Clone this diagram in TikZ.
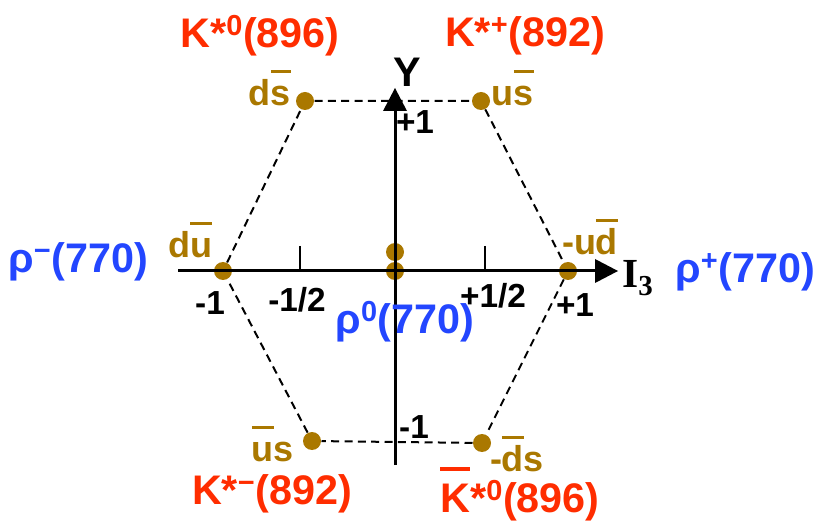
\documentclass[tikz,border=0pt]{standalone}
\usepackage{fontspec}
\setmainfont{Liberation Sans}
\newfontfamily\timesfont{Liberation Serif}
\definecolor{kred}{RGB}{255,45,0}
\definecolor{rhoblue}{RGB}{35,70,255}
\definecolor{qgold}{RGB}{170,120,0}
\newcommand\qbar[2][0.9em]{\setbox0\hbox{#2}\rlap{\raisebox{#1}{\rule{\wd0}{0.085em}}}\box0}

\tikzset{every picture/.style={line width=0.75pt}}

\begin{document}
\begin{tikzpicture}[x=0.75pt,y=0.75pt,yscale=-1,xscale=1,
  kstar/.style={text=kred, font=\bfseries\fontsize{31}{31}\selectfont, inner sep=0pt},
  rho/.style={text=rhoblue, font=\bfseries\fontsize{31}{31}\selectfont, inner sep=0pt},
  quark/.style={text=qgold, font=\bfseries\fontsize{27}{27}\selectfont, inner sep=0pt},
  axnum/.style={font=\bfseries\fontsize{25}{25}\selectfont, inner sep=0pt},
  qdot/.style={circle, fill=qgold, minimum size=13.5pt, inner sep=0pt}]
\useasboundingbox (0,0) rectangle (818,527);

%Shape: Circle [id:dots] 
\node [qdot] (ds) at (305,101) {};
\node [qdot] (us) at (481,101) {};
\node [qdot] (du) at (223,271) {};
\node [qdot] (ud) at (568,271) {};
\node [qdot] (usb) at (312,441) {};
\node [qdot] (dsb) at (482,443) {};
\node [qdot] (uu) at (395,252) {};
\node [qdot] (dd) at (395,271) {};

%Straight Lines [id:hexagon] 
\draw [dashed, line width=1.5pt, dash pattern=on 6pt off 4pt] (ds) -- (us) -- (ud) -- (dsb) -- (usb) -- (du) -- (ds) ;

%Straight Lines [id:axes] 
\coordinate (xl) at (178,271);
\coordinate (xr) at (618,271);
\coordinate (yb) at (395,465);
\coordinate (yt) at (395,88);
\draw [line width=2.25pt, shorten >=10pt] (xl) -- (xr) ;
\draw [shift={(xr)}, rotate = 180] [fill=black] [draw opacity=0] (23,-12) -- (0,0) -- (23,12) -- cycle ;
\draw [line width=2.25pt, shorten >=10pt] (yb) -- (yt) ;
\draw [shift={(yt)}, rotate = 90] [fill=black] [draw opacity=0] (23,-12) -- (0,0) -- (23,12) -- cycle ;
%Straight Lines [id:ticks] 
\draw [line width=2pt] (300,246) -- (300,271) ;
\draw [line width=2pt] (485,246) -- (485,271) ;

% Text Node
\node [kstar] (Kz) at (260,36) {K*\textsuperscript{0}(896)};
\node [kstar] (Kp) at (525,36) {K*\textsuperscript{+}(892)};
\node [kstar] (Km) at (272,494) {K*\textsuperscript{−}(892)};
\node [kstar] (Kzb) at (520,494) {\qbar[1.0em]{K}*\textsuperscript{0}(896)};
% Text Node
\node [rho] (rhom) at (78,262) {ρ\textsuperscript{−}(770)};
\node [rho] (rhop) at (745,272) {ρ\textsuperscript{+}(770)};
\node [rho] (rhoz) at (405,322) {ρ\textsuperscript{0}(770)};
% Text Node
\node [quark] (lds) at (270,88) {d\qbar{s}};
\node [quark] (lus) at (513,88) {u\qbar{s}};
\node [quark] (ldu) at (190,240) {d\qbar{u}};
\node [quark] (lud) at (590,237) {-u\qbar{d}};
\node [quark] (lusb) at (273,444) {\qbar{u}s};
\node [quark] (ldsb) at (517,454) {-\qbar{d}s};
% Text Node
\node [axnum] (xm1) at (210,303) {-1};
\node [axnum] (xmh) at (297,300) {-1/2};
\node [axnum] (xph) at (493,296) {+1/2};
\node [axnum] (xp1) at (575,305) {+1};
\node [axnum] (yp1) at (415,122) {+1};
\node [axnum] (ym1) at (414,427) {-1};
% Text Node
\node [font=\bfseries\fontsize{31}{31}\selectfont, inner sep=0pt] (Ylab) at (407,72) {Y};
\node [font=\timesfont\bfseries\fontsize{31}{31}\selectfont, inner sep=0pt] (Ilab) at (638,278) {I\textsubscript{3}};

\end{tikzpicture}
\end{document}
